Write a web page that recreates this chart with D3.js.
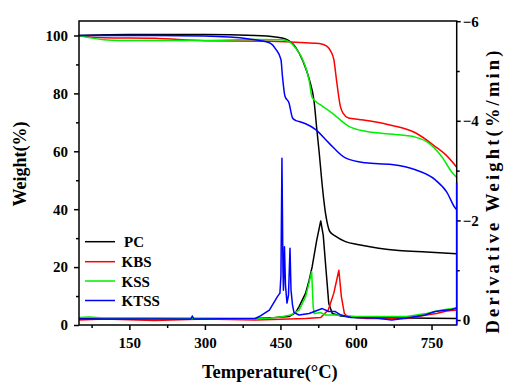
<!DOCTYPE html>
<html>
<head>
<meta charset="utf-8">
<script src="https://cdn.jsdelivr.net/npm/d3@7"></script>
<style>
  html, body { margin: 0; padding: 0; background: #ffffff; }
  svg { display: block; }
  text { font-family: "Liberation Serif", "Times New Roman", serif; font-weight: bold; fill: #000; }
</style>
</head>
<body>
<svg id="chart" width="505" height="382"></svg>
<script>
// ---------- DATA ----------
const seriesNames = ["PC", "KBS", "KSS", "KTSS"];
const seriesColors = ["#000000", "#ff0000", "#00ee00", "#0000ff"];

const xTicks = [150, 300, 450, 600, 750];
const xMinorTicks = [75, 225, 375, 525, 675];
const yLeftTicks = [0, 20, 40, 60, 80, 100];
const yLeftMinorTicks = [10, 30, 50, 70, 90];
const yRightTicks = [-6, -4, -2, 0];
const yRightMinorTicks = [-5, -3, -1];

// TGA weight (%) vs temperature (°C)
const tgaPC = [[50,100],[150,100.3],[300,100.3],[400,100],[440,99.5],[460,98.8],[480,96],[495,91],[507,85],[517,77],[522,68],[527,59.5],[532,50],[536,43.3],[540,38],[543,35.2],[548,32.3],[560,30.6],[579,28.8],[606,27.7],[645,26.5],[685,25.7],[740,25.2],[800,24.6]];
const tgaKBS = [[50,100],[70,99.5],[100,99.2],[200,99],[300,98.2],[430,98],[500,97.5],[527,97.2],[542,96.3],[550,94.5],[556,91.7],[562,83.7],[569,75.5],[575,73],[585,71.5],[606,71],[665,69.2],[718,66.4],[757,61.7],[780,58.5],[800,54.5]];
const tgaKSS = [[50,100],[70,99.3],[100,98.5],[130,98.3],[300,98.3],[400,98.6],[453,98.5],[470,97.5],[480,95.7],[497,90.5],[507,84.5],[513,78.5],[530,76],[552,73.3],[586,68.6],[619,66.9],[685,65.7],[718,64.9],[744,62.9],[770,58.2],[793,52.2],[800,51]];
const tgaKTSS = [[50,100],[200,100],[300,99.8],[388,98.8],[428,97.5],[441,95.2],[451,91.7],[454,85.9],[459,79],[467,76.7],[474,71.5],[480,70.7],[487,70.3],[500,69.5],[520,67.5],[546,62.9],[579,57.7],[619,56],[671,55.4],[718,53.6],[757,50.2],[780,46],[797,40.4],[800,39.8]];

// DTG derivative weight (%/min) vs temperature (°C)
const dtgPC = [[50,-0.03],[300,-0.03],[400,-0.03],[440,-0.05],[467,-0.07],[480,-0.15],[487,-0.27],[500,-0.54],[507,-0.8],[513,-1.07],[522,-1.6],[530,-1.99],[535,-1.7],[540,-1.07],[546,-0.33],[553,-0.13],[570,-0.08],[600,-0.05],[700,-0.04],[800,-0.03]];
const dtgKBS = [[50,0],[100,-0.02],[200,0.01],[300,-0.02],[400,0],[500,-0.03],[530,-0.05],[545,-0.2],[556,-0.54],[566,-1.0],[571,-0.47],[577,-0.13],[583,-0.07],[620,-0.03],[700,-0.03],[740,-0.1],[760,-0.13],[780,-0.18],[800,-0.2]];
const dtgKSS = [[50,-0.05],[70,-0.06],[100,-0.04],[200,-0.04],[300,-0.03],[400,-0.02],[430,-0.04],[450,-0.06],[470,-0.1],[487,-0.2],[500,-0.47],[507,-0.75],[512,-0.97],[515,-0.27],[517,-0.13],[530,-0.15],[540,-0.1],[560,-0.1],[600,-0.07],[700,-0.07],[740,-0.13],[770,-0.2],[800,-0.24]];
const dtgKTSS = [[50,-0.02],[200,-0.02],[272,-0.02],[275,-0.08],[278,-0.02],[400,-0.03],[408,-0.07],[428,-0.2],[444,-0.47],[449,-0.54],[451,-0.9],[453,-3.25],[455,-1.0],[456,-0.6],[458,-1.47],[460,-0.7],[463,-0.34],[466,-0.5],[469,-1.44],[471,-0.6],[474,-0.3],[477,-0.15],[487,-0.1],[507,-0.13],[520,-0.18],[533,-0.23],[546,-0.17],[559,-0.17],[570,-0.1],[590,-0.05],[640,-0.04],[671,0],[700,-0.04],[737,-0.1],[757,-0.17],[790,-0.21],[800,-0.24],[800,0.1],[800,-2.75]];

const tgaData = [tgaPC, tgaKBS, tgaKSS, tgaKTSS];
const dtgData = [dtgPC, dtgKBS, dtgKSS, dtgKTSS];

// ---------- LAYOUT ----------
const svg = d3.select("#chart");
const L = 79, R = 456.7, T = 21, B = 325;

const x = d3.scaleLinear().domain([50, 800]).range([L, R]);
const yL = d3.scaleLinear().domain([0, 105]).range([B, T]);
const yR = d3.scaleLinear().domain([0.1, -6]).range([B, T + 0.2]);

svg.append("clipPath").attr("id", "clip").append("rect")
  .attr("x", L).attr("y", T).attr("width", R - L).attr("height", B - T);

const plot = svg.append("g").attr("clip-path", "url(#clip)");

const tgaLine = d3.line().x(d => x(d[0])).y(d => yL(d[1])).curve(d3.curveMonotoneX);
const dtgLine = d3.line().x(d => x(d[0])).y(d => yR(d[1])).curve(d3.curveLinear);

dtgData.forEach((s, i) => {
  plot.append("path").attr("d", dtgLine(s)).attr("fill", "none")
    .attr("stroke", seriesColors[i]).attr("stroke-width", 1.5).attr("stroke-linejoin", "round");
});
tgaData.forEach((s, i) => {
  plot.append("path").attr("d", tgaLine(s)).attr("fill", "none")
    .attr("stroke", seriesColors[i]).attr("stroke-width", 1.5);
});

// ---------- AXES ----------
const fontSize = "15px";
function styleAxis(g) {
  g.select(".domain").remove();
  g.selectAll("line").attr("stroke", "#000").attr("stroke-width", 1.5);
  g.selectAll("text").style("font-size", fontSize).style("font-family", '"Liberation Serif", "Times New Roman", serif').style("font-weight", "bold");
}

svg.append("g").attr("transform", `translate(0,${B})`)
  .call(d3.axisBottom(x).tickValues(xTicks).tickSize(5).tickPadding(7).tickFormat(d3.format("d")))
  .call(styleAxis);
svg.append("g").attr("transform", `translate(0,${B})`)
  .call(d3.axisBottom(x).tickValues(xMinorTicks).tickSize(3).tickFormat(""))
  .call(styleAxis);

svg.append("g").attr("transform", `translate(${L},0)`)
  .call(d3.axisLeft(yL).tickValues(yLeftTicks).tickSize(5).tickPadding(6).tickFormat(d3.format("d")))
  .call(styleAxis);
svg.append("g").attr("transform", `translate(${L},0)`)
  .call(d3.axisLeft(yL).tickValues(yLeftMinorTicks).tickSize(3).tickFormat(""))
  .call(styleAxis);

svg.append("g").attr("transform", `translate(${R},0)`)
  .call(d3.axisRight(yR).tickValues(yRightTicks).tickSize(4).tickPadding(2).tickFormat(d3.format("d")))
  .call(styleAxis);
svg.append("g").attr("transform", `translate(${R},0)`)
  .call(d3.axisRight(yR).tickValues(yRightMinorTicks).tickSize(3).tickFormat(""))
  .call(styleAxis);

// frame
svg.append("rect").attr("x", L).attr("y", T).attr("width", R - L).attr("height", B - T)
  .attr("fill", "none").attr("stroke", "#000").attr("stroke-width", 1.5);

// KTSS end segment along the right edge, above the frame
svg.append("path").attr("d", dtgLine(dtgKTSS.slice(-3)))
  .attr("fill", "none").attr("stroke", seriesColors[3]).attr("stroke-width", 1.5);

// titles
svg.append("text").attr("x", (L + R) / 2 + 2).attr("y", 378).attr("text-anchor", "middle")
  .style("font-size", "18.5px").text("Temperature(°C)");
svg.append("text").attr("transform", "translate(25.5,164) rotate(-90)").attr("text-anchor", "middle")
  .style("font-size", "18px").text("Weight(%)");
svg.append("text").attr("transform", "translate(499,192) rotate(-90)").attr("text-anchor", "middle")
  .attr("textLength", 283).attr("lengthAdjust", "spacing")
  .style("font-size", "18.5px").text("Derivative Weight(%/min)");

// legend
const legendY = [241.7, 261.7, 281, 300.5];
const legend = svg.append("g");
seriesNames.forEach((name, i) => {
  legend.append("line").attr("x1", 85).attr("x2", 115).attr("y1", legendY[i]).attr("y2", legendY[i])
    .attr("stroke", seriesColors[i]).attr("stroke-width", 1.5);
  legend.append("text").attr("x", i === 0 ? 124 : 121.5).attr("y", legendY[i] + 5.5)
    .style("font-size", "15px").text(name);
});
</script>
</body>
</html>
